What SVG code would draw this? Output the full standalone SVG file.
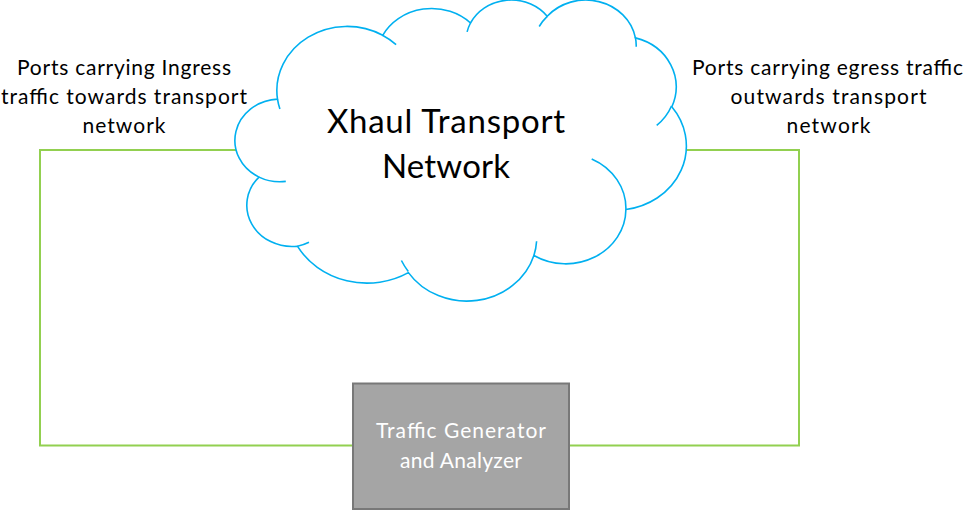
<svg xmlns="http://www.w3.org/2000/svg" width="966" height="511" viewBox="0 0 966 511">
<style>
.conn{fill:none;stroke:#92D050;stroke-width:2;}
.cloud{fill:#FFFFFF;stroke:#00B0F0;stroke-width:1.6;stroke-linejoin:round;}
.tick{fill:none;stroke:#00B0F0;stroke-width:1.6;}
.lbl{font-family:Lato,"Liberation Sans",sans-serif;font-size:21px;fill:#000000;text-anchor:middle;}
.title{font-family:Lato,"Liberation Sans",sans-serif;font-size:33px;fill:#000000;text-anchor:middle;}
.boxtxt{font-family:Lato,"Liberation Sans",sans-serif;font-size:21px;fill:#FFFFFF;text-anchor:middle;}
.box{fill:#A5A5A5;stroke:#787878;stroke-width:2;}
</style>
<rect width="966" height="511" fill="#FFFFFF"/>
<g id="connectors">
<polyline class="conn" points="237,150 40,150 40,445.5 353,445.5"/>
<polyline class="conn" points="686,150 799,150 799,445.5 569,445.5"/>
</g>
<g id="cloud">
<path class="cloud" d="M 277.5 99.1 A 70.19 64.04 0 0 1 382.7 35.3 A 55.43 50.64 0 0 1 470.5 23.0 A 45.37 41.42 0 0 1 547.2 16.3 A 50.48 45.95 0 0 1 635.4 37.9 A 55.43 50.68 0 0 1 671.8 106.8 A 70.42 64.24 0 0 1 625.9 209.5 A 60.13 54.82 0 0 1 533.9 255.5 A 70.18 64.21 0 0 1 408.4 272.6 A 80.24 73.46 0 0 1 297.4 246.2 A 45.32 41.24 0 0 1 259.0 177.1 A 45.16 41.42 0 0 1 277.5 99.1 Z"/>
<path class="tick" d="M 285.8 181.4 A 45.16 41.42 0 0 1 259.0 177.1 M 309.0 242.2 A 45.32 41.24 0 0 1 297.4 246.2 M 408.3 271.4 A 70.18 64.21 0 0 1 401.4 260.5 M 536.6 241.2 A 70.18 64.21 0 0 1 533.9 255.5 M 591.7 158.9 A 60.13 54.82 0 0 1 625.9 209.5 M 671.5 106.0 A 55.43 50.68 0 0 1 656.7 125.4 M 635.3 36.8 A 50.48 45.95 0 0 1 636.2 46.7 M 539.2 26.5 A 50.48 45.95 0 0 1 547.2 16.3 M 467.1 31.9 A 45.37 41.42 0 0 1 470.5 23.0 M 382.5 35.2 A 70.19 64.04 0 0 1 396.1 44.6 M 279.9 109.0 A 70.19 64.04 0 0 1 277.5 99.1"/>
<text class="title" x="446" y="132.5" textLength="238">Xhaul Transport</text>
<text class="title" x="446" y="177.5" textLength="128">Network</text>
</g>
<g id="ingress-label">
<text class="lbl" x="124" y="75" textLength="214">Ports carrying Ingress</text>
<text class="lbl" x="124" y="104.3" textLength="246">traffic towards transport</text>
<text class="lbl" x="124" y="133.3" textLength="83">network</text>
</g>
<g id="egress-label">
<text class="lbl" x="827.5" y="75" textLength="271">Ports carrying egress traffic</text>
<text class="lbl" x="828.5" y="104.3" textLength="196">outwards transport</text>
<text class="lbl" x="828.5" y="133.3" textLength="84">network</text>
</g>
<g id="traffic-generator">
<rect class="box" x="353" y="383.5" width="216" height="125.5"/>
<text class="boxtxt" x="461" y="438.3" textLength="170">Traffic Generator</text>
<text class="boxtxt" x="461" y="467.8" textLength="122">and Analyzer</text>
</g>
</svg>
